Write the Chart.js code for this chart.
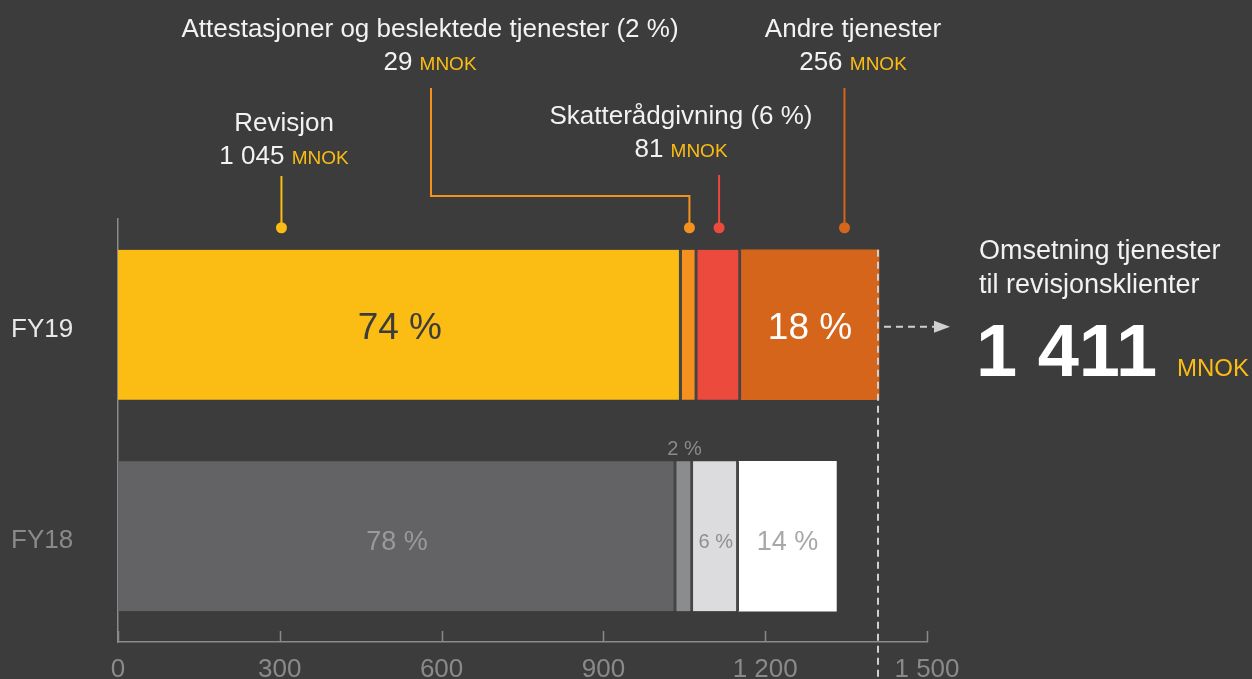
<!DOCTYPE html>
<html>
<head>
<meta charset="utf-8">
<script src="https://cdn.jsdelivr.net/npm/chart.js@4.4.1/dist/chart.umd.min.js"></script>
<style>
  html, body { margin: 0; padding: 0; background: #3c3c3c; }
  canvas { display: block; }
</style>
</head>
<body>
<canvas id="myChart" width="1252" height="679"></canvas>
<script>
// data
const years = ['FY19', 'FY18'];
const revisjon = [1045, 1035];
const attestasjoner = [29, 31];
const skatt = [81, 85];
const andre = [256, 181];
const serviceNames = ['Revisjon', 'Attestasjoner og beslektede tjenester (2 %)', 'Skatterådgivning (6 %)', 'Andre tjenester'];
const pctFY19 = ['74 %', '', '', '18 %'];
const pctFY18 = ['78 %', '2 %', '6 %', '14 %'];
const unit = 'MNOK';

const FONT = '"Liberation Sans", Arial, Helvetica, sans-serif';
const BG = '#3c3c3c';
const GAP = '#454545';
const AXIS = '#8a8a8c';
const YELLOW = '#FBBD13';

const colorsFY19 = [YELLOW, '#F5911E', '#EC4A3C', '#D5651B'];
const colorsFY18 = ['#636365', '#8b8c8e', '#dcdcde', '#ffffff'];

const fmt = v => String(v).replace(/\B(?=(\d{3})+(?!\d))/g, ' ');
const total19 = revisjon[0] + attestasjoner[0] + skatt[0] + andre[0];

function makeSet(label, data, i, last) {
  return {
    label: label,
    data: data,
    backgroundColor: [colorsFY19[i], colorsFY18[i]],
    borderColor: GAP,
    borderWidth: last ? 0 : { left: 0, right: 3, top: 0, bottom: 0 },
    borderSkipped: false,
    barThickness: 150
  };
}

// label styles inside bars: [size, colour, above?]
const pctStyle19 = [[37, BG], null, null, [37, '#ffffff']];
const pctStyle18 = [[27, '#9a9a9a'], [20, '#8a8a8a', true], [20, '#8f8f8f'], [27, '#a8a8a8']];

// annotation layout above FY19
const notes = [
  { at: 0.29, cx: 284, titleY: 122, valueY: 155, lineTop: 176 },
  { at: 0.5, cx: 430, titleY: 28, valueY: 61, lineTop: 88, elbowY: 196 },
  { at: 0.5, cx: 681, titleY: 115, valueY: 148, lineTop: 175 },
  { at: 0.75, cx: 853, titleY: 28, valueY: 61, lineTop: 88 }
];
const valuesFY19 = [revisjon[0], attestasjoner[0], skatt[0], andre[0]];

const decor = {
  id: 'decor',
  afterDatasetsDraw(chart) {
    const { ctx, chartArea, scales: { x } } = chart;
    ctx.save();

    // x ticks pointing up into the plot
    ctx.strokeStyle = AXIS;
    ctx.lineWidth = 1.5;
    x.ticks.forEach(t => {
      const px = Math.round(x.getPixelForValue(t.value)) + 0.5;
      ctx.beginPath();
      ctx.moveTo(px, chartArea.bottom - 11);
      ctx.lineTo(px, chartArea.bottom);
      ctx.stroke();
    });

    // percent labels in bars
    ctx.textAlign = 'center';
    ctx.textBaseline = 'middle';
    for (let i = 0; i < 4; i++) {
      const meta = chart.getDatasetMeta(i);
      [[pctFY19, pctStyle19], [pctFY18, pctStyle18]].forEach((pair, j) => {
        const txt = pair[0][i];
        const st = pair[1][i];
        if (!txt || !st) return;
        const el = meta.data[j];
        const cx = (el.x + el.base) / 2;
        let cy = el.y + (j === 0 ? 4 : 6);
        if (st[2]) cy = el.y - el.height / 2 - 12;
        ctx.font = st[0] + 'px ' + FONT;
        ctx.fillStyle = st[1];
        ctx.fillText(txt, cx, cy);
      });
    }

    // annotations with leader lines
    notes.forEach((n, i) => {
      const el = chart.getDatasetMeta(i).data[0];
      const dotX = el.base + n.at * (el.x - el.base);
      const dotY = el.y - el.height / 2 - 22;
      const col = colorsFY19[i];
      ctx.strokeStyle = col;
      ctx.fillStyle = col;
      ctx.lineWidth = 2;
      ctx.beginPath();
      if (n.elbowY) {
        ctx.moveTo(n.cx + 1, n.lineTop);
        ctx.lineTo(n.cx + 1, n.elbowY);
        ctx.lineTo(dotX, n.elbowY);
        ctx.lineTo(dotX, dotY);
      } else {
        ctx.moveTo(dotX, n.lineTop);
        ctx.lineTo(dotX, dotY);
      }
      ctx.stroke();
      ctx.beginPath();
      ctx.arc(dotX, dotY, 5.5, 0, Math.PI * 2);
      ctx.fill();

      ctx.textBaseline = 'alphabetic';
      ctx.textAlign = 'center';
      ctx.font = '26px ' + FONT;
      ctx.fillStyle = '#f2f2f2';
      ctx.fillText(serviceNames[i], n.cx, n.titleY + 9);

      const num = fmt(valuesFY19[i]) + ' ';
      ctx.font = '26px ' + FONT;
      const w1 = ctx.measureText(num).width;
      ctx.font = '19px ' + FONT;
      const w2 = ctx.measureText(unit).width;
      const sx = n.cx - (w1 + w2) / 2;
      ctx.textAlign = 'left';
      ctx.font = '26px ' + FONT;
      ctx.fillStyle = '#f2f2f2';
      ctx.fillText(num, sx, n.valueY + 9);
      ctx.font = '19px ' + FONT;
      ctx.fillStyle = YELLOW;
      ctx.fillText(unit, sx + w1, n.valueY + 9);
    });

    // dashed total line and arrow
    const top19 = chart.getDatasetMeta(3).data[0];
    const tx = x.getPixelForValue(total19) - 1;
    ctx.strokeStyle = '#d0d0d0';
    ctx.lineWidth = 2;
    ctx.setLineDash([7, 5]);
    ctx.beginPath();
    ctx.moveTo(tx, top19.y - top19.height / 2);
    ctx.lineTo(tx, 679);
    ctx.stroke();
    ctx.beginPath();
    ctx.moveTo(tx + 6, top19.y + 2);
    ctx.lineTo(tx + 57, top19.y + 2);
    ctx.stroke();
    ctx.setLineDash([]);
    ctx.fillStyle = '#d0d0d0';
    ctx.beginPath();
    ctx.moveTo(tx + 56, top19.y - 4);
    ctx.lineTo(tx + 72, top19.y + 2);
    ctx.lineTo(tx + 56, top19.y + 8);
    ctx.closePath();
    ctx.fill();

    // total block on the right
    ctx.textAlign = 'left';
    ctx.textBaseline = 'alphabetic';
    ctx.fillStyle = '#f2f2f2';
    ctx.font = '27px ' + FONT;
    ctx.fillText('Omsetning tjenester', 979, 259);
    ctx.fillText('til revisjonsklienter', 979, 293);
    ctx.font = 'bold 74px ' + FONT;
    ctx.fillStyle = '#ffffff';
    ctx.fillText(fmt(total19), 976, 376);
    ctx.font = '24px ' + FONT;
    ctx.fillStyle = YELLOW;
    ctx.fillText(unit, 1177, 376);

    ctx.restore();
  }
};

const ctx = document.getElementById('myChart').getContext('2d');
const myChart = new Chart(ctx, {
  type: 'bar',
  data: {
    labels: years,
    datasets: [
      makeSet(serviceNames[0], revisjon, 0, false),
      makeSet(serviceNames[1], attestasjoner, 1, false),
      makeSet(serviceNames[2], skatt, 2, false),
      makeSet(serviceNames[3], andre, 3, true)
    ]
  },
  options: {
    indexAxis: 'y',
    responsive: false,
    animation: false,
    layout: { padding: { left: 11, right: 325, top: 219, bottom: 0 } },
    plugins: { legend: { display: false }, tooltip: { enabled: false } },
    scales: {
      x: {
        stacked: true,
        min: 0,
        max: 1500,
        ticks: {
          stepSize: 300,
          padding: 12,
          color: AXIS,
          font: { family: FONT, size: 26 },
          callback: v => fmt(v)
        },
        grid: { display: false, drawTicks: false },
        border: { display: true, color: AXIS, width: 1.5 },
        afterFit: s => { s.height = 37; }
      },
      y: {
        stacked: true,
        ticks: {
          crossAlign: 'far',
          padding: 0,
          labelOffset: 5,
          font: { family: FONT, size: 26 },
          color: c => c.index === 0 ? '#e8e8e8' : '#8a8a8a'
        },
        grid: { display: false, drawTicks: false },
        border: { display: true, color: AXIS, width: 1.5 },
        afterFit: s => { s.width = 107; }
      }
    }
  },
  plugins: [decor]
});
</script>
</body>
</html>
